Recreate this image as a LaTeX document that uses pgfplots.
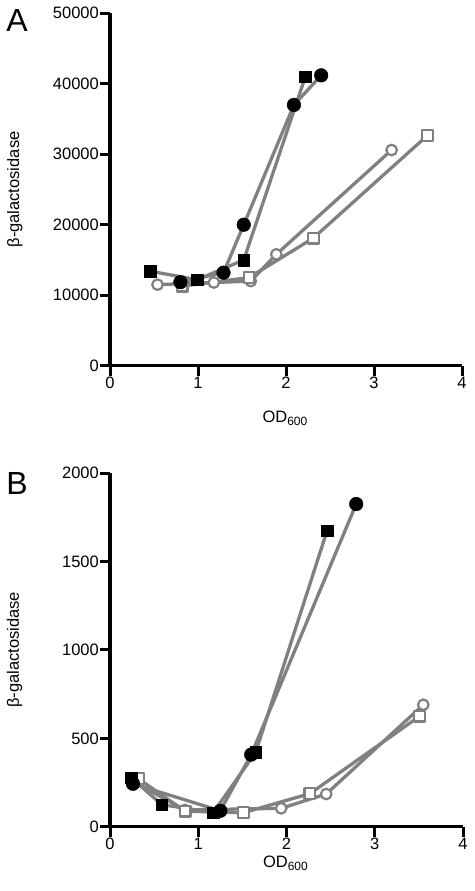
\documentclass[border=0pt]{standalone}
\usepackage{pgfplots}
\pgfplotsset{compat=1.18}
\usepackage{fontspec}
\setmainfont{Liberation Sans}
\definecolor{lgray}{RGB}{128,128,128}
\pgfplotsset{
  panel/.style={
    scale only axis, axis lines=left,
    axis line style={line width=3.2pt,-,black},
    xmin=0,xmax=4,xtick={0,1,2,3,4},
    tick style={line width=3pt,black}, tick align=outside, major tick length=10pt,
    tick label style={font=\fontsize{16.5}{18}\selectfont},
    xticklabel style={inner sep=1.5pt},
    yticklabel style={inner sep=1pt},
    /pgf/number format/assume math mode=true,
    /pgf/number format/1000 sep={},
    scaled y ticks=false,
    xlabel={OD{\raisebox{-0.35ex}{\fontsize{12}{12}\selectfont 600}}}, ylabel={β-galactosidase},
    label style={font=\fontsize{16.5}{18}\selectfont},
    ylabel style={at={(axis description cs:-0.27,0.5)},anchor=center},
    clip=false,
  },
  ser/.style={draw=lgray, line width=3.3pt, line join=round},
  fsq/.style={ser, mark=square*, mark size=5.8pt, mark options={fill=black,draw=black,line width=0.5pt}},
  fci/.style={ser, mark=*, mark size=6.8pt, mark options={fill=black,draw=black,line width=0.5pt}},
  osq/.style={ser, mark=square*, mark size=5.4pt, mark options={fill=white,draw=lgray,line width=2.2pt}},
  oci/.style={ser, mark=*, mark size=5.3pt, mark options={fill=white,draw=lgray,line width=2.2pt}},
}
\begin{document}
\begin{tikzpicture}[x=1pt,y=1pt]
\useasboundingbox (0,0) rectangle (474,891);
\node[font=\fontsize{32}{32}\selectfont] at (17,870) {A};
\node[font=\fontsize{32}{32}\selectfont] at (17,408) {B};
\begin{axis}[panel, at={(110pt,525.3pt)}, anchor=south west,
  width=352pt, height=352.4pt, ymin=0, ymax=50000,
  ytick={0,10000,20000,30000,40000,50000},
  xlabel style={at={(axis description cs:0.497,-0.149)},anchor=center}]
\addplot[oci] coordinates {(0.54,11500) (1.18,11800) (1.60,12000) (1.89,15800) (3.20,30600)};
\addplot[osq] coordinates {(0.82,11300) (1.58,12500) (2.31,18100) (3.61,32700)};
\addplot[fsq] coordinates {(0.46,13400) (0.99,12200) (1.52,15000) (2.22,41000)};
\addplot[fci] coordinates {(0.80,11850) (1.29,13200) (1.52,20000) (2.09,37000) (2.40,41200)};
\end{axis}
\begin{axis}[panel, at={(110pt,64.3pt)}, anchor=south west,
  width=353pt, height=353.4pt, ymin=0, ymax=2000,
  ytick={0,500,1000,1500,2000},
  xlabel style={at={(axis description cs:0.497,-0.103)},anchor=center}]
\addplot[oci] coordinates {(0.28,250) (0.85,95) (1.94,104) (2.45,185) (3.55,690)};
\addplot[osq] coordinates {(0.32,272) (0.85,88) (1.51,79) (2.265,187) (3.51,626)};
\addplot[fsq] coordinates {(0.24,278) (0.585,125) (1.17,80) (1.65,420) (2.46,1675)};
\addplot[fci] coordinates {(0.26,243) (1.25,90) (1.60,408) (2.79,1826)};
\end{axis}
\end{tikzpicture}
\end{document}
